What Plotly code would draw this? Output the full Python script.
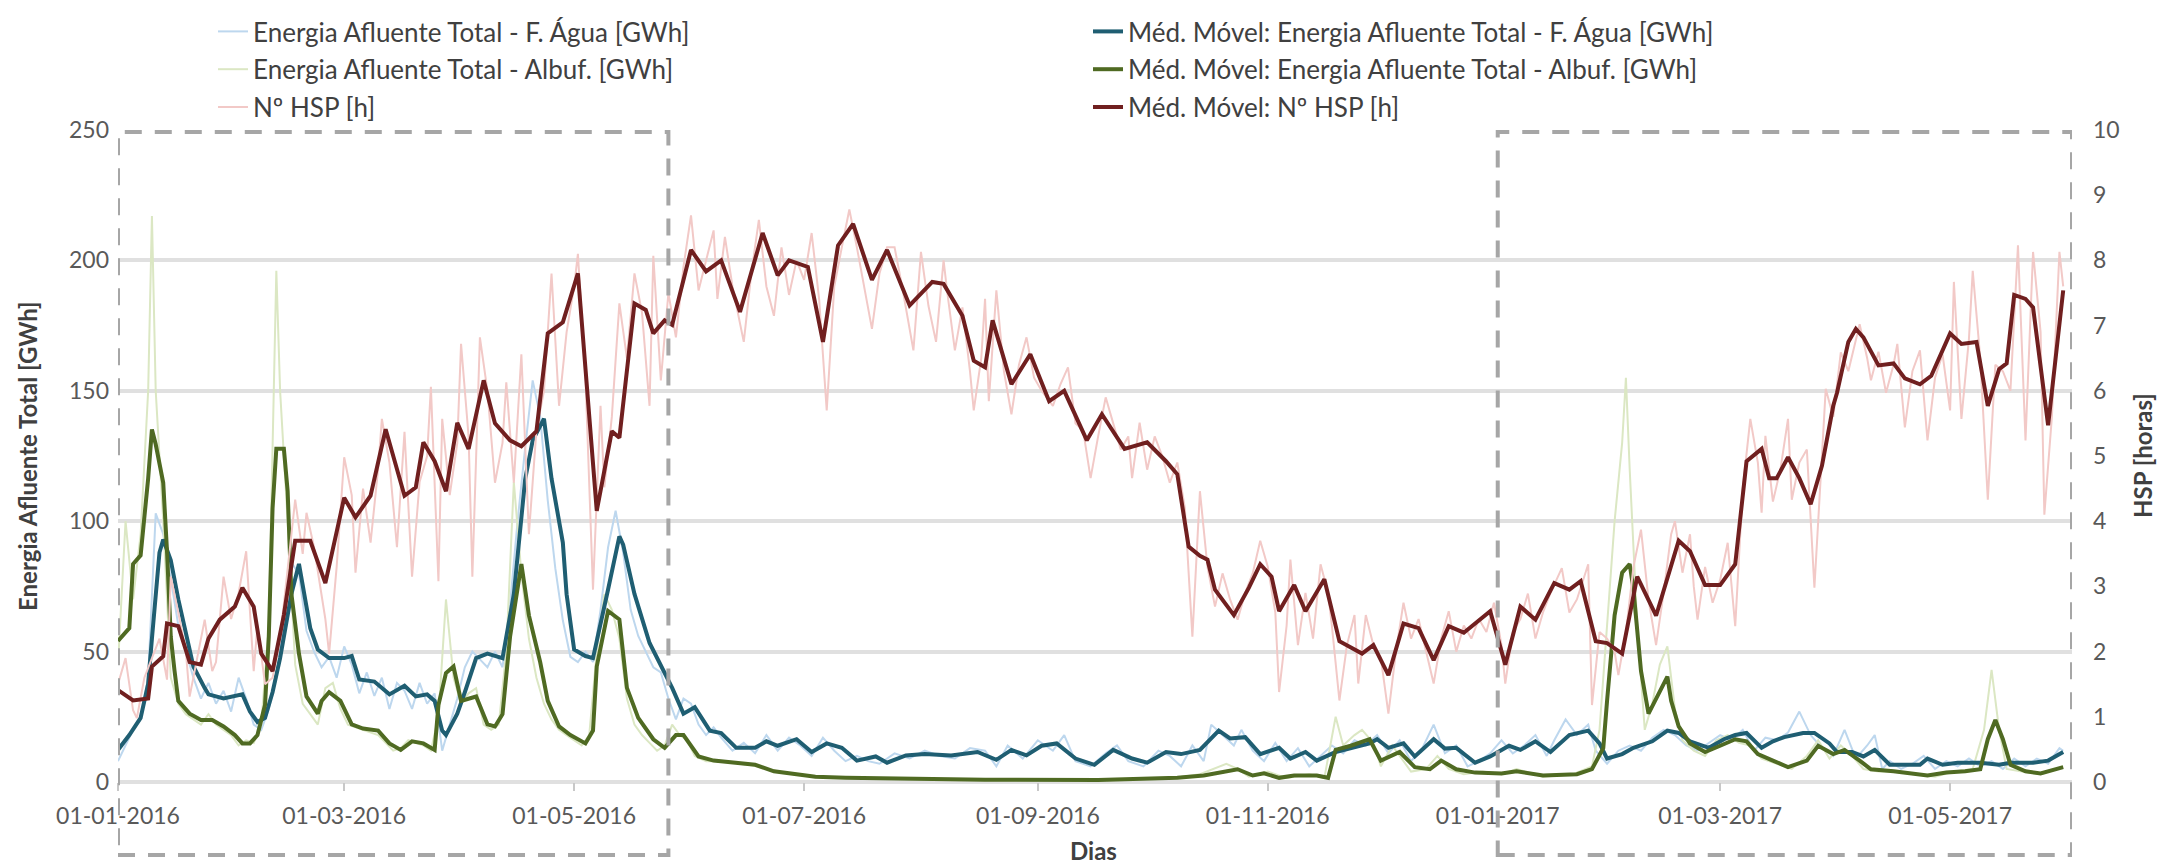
"""Energia afluente (F. Água / Albufeiras) e Nº HSP, com médias móveis."""
import pandas as pd
import plotly.graph_objects as go

START = pd.Timestamp("2016-01-01")
FONT = "Lato"

# (dias desde 01-01-2016, valor)
AGUA_RAW = [
    (0, 8), (2, 14), (4, 20), (6, 24), (8, 40), (10, 103), (12, 95), (14, 78), (16, 60), (18, 50),
    (20, 40), (22, 32), (24, 38), (26, 30), (28, 35), (30, 27), (32, 40), (34, 32), (36, 22), (38, 20),
    (40, 28), (42, 40), (44, 62), (46, 84), (48, 80), (50, 58), (52, 50), (54, 44), (56, 48), (58, 40),
    (60, 52), (62, 45), (64, 34), (66, 42), (68, 33), (70, 40), (72, 28), (74, 38), (76, 35), (78, 28),
    (80, 38), (82, 30), (84, 34), (86, 12), (88, 22), (90, 32), (92, 44), (94, 50), (96, 47), (98, 44),
    (100, 50), (102, 44), (104, 68), (106, 100), (108, 128), (110, 154), (112, 140), (114, 108),
    (116, 82), (118, 62), (120, 48), (122, 46), (124, 50), (126, 46), (128, 66), (130, 90), (132, 104),
    (134, 88), (136, 66), (138, 56), (140, 50), (142, 44), (144, 42), (146, 32), (148, 24), (150, 32),
    (152, 30), (154, 22), (156, 18), (158, 21), (160, 17), (163, 12), (166, 15), (169, 11), (172, 18),
    (175, 12), (178, 17), (181, 14), (184, 10), (187, 17), (190, 12), (193, 8), (196, 10), (199, 8),
    (202, 7), (206, 11), (210, 9), (214, 12), (218, 10), (222, 9), (226, 13), (230, 12), (233, 6),
    (236, 14), (240, 9), (244, 16), (248, 12), (251, 18), (254, 8), (258, 6), (262, 11), (265, 14),
    (268, 8), (272, 6), (276, 12), (279, 10), (282, 6), (285, 14), (288, 8), (290, 22), (293, 18),
    (296, 14), (298, 20), (301, 12), (304, 8), (307, 15), (310, 8), (313, 13), (316, 6), (319, 10),
    (322, 14), (325, 11), (328, 16), (331, 14), (334, 18), (337, 11), (340, 16), (343, 8), (346, 13),
    (349, 22), (352, 11), (355, 14), (358, 6), (361, 8), (364, 11), (367, 16), (370, 11), (373, 14),
    (376, 18), (379, 10), (381, 16), (384, 24), (387, 18), (390, 22), (392, 12), (395, 7), (398, 12),
    (401, 14), (404, 12), (407, 17), (410, 20), (413, 18), (416, 14), (419, 12), (422, 15), (425, 18),
    (428, 16), (431, 20), (434, 12), (437, 17), (440, 16), (443, 19), (446, 27), (449, 18), (452, 13),
    (455, 10), (458, 20), (461, 9), (464, 14), (466, 18), (468, 5), (470, 8), (473, 5), (476, 7),
    (479, 10), (482, 5), (485, 8), (488, 6), (491, 9), (494, 6), (497, 8), (500, 5), (503, 9),
    (506, 6), (509, 9), (512, 7), (515, 13), (516, 12),
]

ALBUF_RAW = [
    (0, 45), (2, 100), (4, 70), (6, 95), (8, 150), (9, 217), (10, 150), (12, 100), (14, 40), (16, 30),
    (18, 26), (20, 24), (22, 22), (24, 26), (26, 22), (28, 20), (30, 18), (32, 14), (34, 16), (36, 15),
    (38, 22), (40, 60), (42, 196), (43, 150), (45, 100), (47, 45), (49, 30), (51, 26), (53, 22),
    (55, 36), (57, 38), (59, 28), (61, 22), (63, 21), (65, 20), (67, 19), (69, 18), (71, 15), (73, 12),
    (75, 13), (77, 16), (79, 15), (81, 14), (83, 12), (85, 25), (87, 70), (89, 40), (91, 30), (93, 34),
    (95, 36), (97, 22), (99, 20), (101, 22), (103, 50), (105, 115), (107, 80), (109, 55), (111, 40),
    (113, 30), (115, 24), (117, 20), (119, 18), (121, 16), (123, 14), (125, 18), (127, 50), (129, 72),
    (131, 66), (133, 55), (135, 32), (137, 22), (139, 18), (141, 15), (143, 12), (145, 14), (147, 22),
    (149, 18), (151, 16), (153, 10), (156, 8), (160, 8), (165, 7), (170, 6), (175, 4), (180, 3),
    (186, 2), (195, 1.5), (205, 1.2), (230, 0.8), (260, 0.8), (280, 1.5), (287, 3), (294, 7), (297, 5),
    (300, 2), (305, 4), (310, 1.5), (316, 3), (320, 1.5), (323, 25), (325, 14), (328, 18), (330, 20),
    (333, 15), (335, 6), (338, 14), (340, 10), (343, 4), (347, 5), (350, 10), (353, 5), (357, 3),
    (362, 4), (367, 3), (371, 5), (378, 2), (386, 3), (391, 6), (393, 20), (395, 60), (397, 100),
    (399, 130), (400, 155), (401, 120), (403, 60), (405, 20), (407, 30), (409, 45), (411, 52),
    (413, 28), (415, 16), (418, 12), (421, 10), (424, 16), (427, 18), (430, 15), (433, 14), (436, 9),
    (440, 7), (444, 5), (448, 10), (451, 16), (454, 9), (457, 14), (460, 10), (463, 5), (467, 4),
    (472, 4), (477, 3), (482, 2), (487, 4), (492, 5), (495, 20), (497, 43), (499, 20), (501, 5),
    (505, 4), (510, 3), (516, 6),
]

HSP_RAW = [
    (0, 1.5), (2, 1.9), (4, 1.1), (5, 0.98), (7, 1.6), (9, 1.9), (11, 2.2), (13, 1.57), (14, 3.15),
    (16, 2.6), (18, 2.0), (19, 1.31), (21, 1.9), (23, 2.49), (25, 1.7), (26, 1.84), (28, 3.15),
    (30, 2.5), (32, 2.9), (34, 3.54), (36, 1.7), (37, 2.4), (39, 1.5), (41, 1.6), (43, 2.2), (45, 3.3),
    (47, 4.33), (49, 3.5), (50, 4.13), (52, 3.6), (55, 2.5), (56, 1.97), (58, 3.3), (60, 4.98),
    (62, 4.4), (63, 3.21), (65, 4.5), (67, 3.67), (69, 4.8), (70, 5.57), (72, 4.9), (74, 3.6),
    (76, 5.37), (78, 3.15), (80, 4.6), (82, 5.0), (83, 6.06), (85, 3.08), (86, 5.57), (88, 4.4),
    (90, 5.2), (91, 6.72), (93, 5.3), (94, 3.15), (96, 6.82), (98, 6.0), (100, 4.59), (102, 5.2),
    (103, 6.13), (105, 4.59), (107, 6.56), (109, 3.8), (111, 5.4), (113, 6.0), (115, 7.8), (117, 5.77),
    (119, 6.9), (121, 7.6), (122, 8.1), (124, 6.2), (126, 2.95), (128, 5.77), (129, 4.52), (131, 5.6),
    (133, 7.34), (135, 6.5), (137, 7.8), (139, 7.2), (141, 5.77), (142, 8.07), (144, 6.16), (146, 7.5),
    (148, 6.82), (150, 7.9), (152, 8.69), (154, 7.54), (156, 8.0), (158, 8.46), (159, 7.41),
    (161, 8.36), (163, 7.6), (166, 6.75), (168, 7.8), (170, 8.62), (172, 7.6), (174, 7.15), (176, 8.2),
    (178, 7.47), (180, 8.0), (182, 7.7), (184, 8.42), (186, 7.4), (188, 5.7), (190, 7.6), (192, 8.2),
    (194, 8.78), (196, 8.2), (198, 7.6), (200, 6.95), (202, 7.8), (204, 8.2), (206, 8.2), (208, 7.6),
    (211, 6.62), (213, 8.13), (215, 7.3), (217, 6.75), (219, 8.0), (220, 7.5), (222, 6.62),
    (224, 7.28), (226, 6.3), (227, 5.7), (229, 6.5), (230, 7.41), (231, 5.84), (233, 7.54), (235, 6.3),
    (237, 5.64), (239, 6.4), (241, 6.82), (243, 6.2), (245, 6.0), (248, 5.77), (250, 6.1), (252, 6.36),
    (254, 5.5), (256, 5.4), (258, 4.66), (260, 5.3), (262, 5.9), (264, 5.5), (266, 5.1), (268, 5.3),
    (269, 4.66), (271, 5.51), (273, 4.79), (275, 5.3), (277, 5.0), (279, 4.59), (281, 4.9), (283, 4.2),
    (285, 2.23), (287, 4.46), (289, 3.3), (291, 2.69), (293, 3.2), (295, 2.8), (297, 2.49), (299, 2.9),
    (301, 3.2), (303, 3.7), (305, 3.3), (307, 2.6), (308, 1.38), (310, 2.4), (311, 3.41), (313, 2.1),
    (315, 2.9), (317, 2.2), (319, 3.34), (321, 2.9), (322, 2.4), (324, 1.25), (326, 2.1), (328, 2.56),
    (329, 1.51), (331, 2.56), (333, 2.1), (335, 1.9), (337, 1.05), (339, 2.0), (341, 2.75), (343, 2.2),
    (345, 2.5), (347, 2.0), (349, 1.51), (351, 2.2), (353, 2.62), (355, 2.0), (357, 2.4), (359, 2.2),
    (361, 2.5), (363, 2.3), (365, 2.75), (367, 2.1), (368, 1.51), (370, 2.3), (372, 2.5), (374, 2.89),
    (376, 2.2), (378, 2.6), (380, 2.9), (383, 3.28), (385, 2.6), (387, 2.8), (390, 3.34), (391, 1.18),
    (393, 2.3), (395, 2.2), (397, 2.0), (398, 1.64), (400, 2.3), (402, 3.3), (404, 3.87), (406, 2.8),
    (408, 2.1), (410, 2.9), (412, 3.8), (413, 4.0), (415, 3.21), (417, 3.8), (418, 3.0), (419, 2.49),
    (421, 3.3), (423, 2.75), (425, 3.1), (427, 3.67), (429, 2.39), (431, 4.5), (433, 5.57), (435, 4.9),
    (436, 4.13), (437, 5.31), (439, 4.3), (441, 4.8), (443, 5.57), (444, 4.33), (446, 4.9), (448, 5.1),
    (450, 2.98), (452, 5.0), (453, 6.03), (455, 5.6), (457, 6.59), (459, 6.3), (462, 7.02), (464, 6.5),
    (465, 6.16), (467, 6.6), (469, 5.97), (471, 6.4), (472, 6.72), (474, 5.44), (476, 6.3),
    (478, 6.62), (480, 5.24), (482, 6.2), (484, 6.56), (486, 5.7), (487, 7.67), (489, 5.57), (491, 6.8),
    (492, 7.84), (494, 6.5), (496, 4.33), (498, 6.4), (500, 6.3), (502, 6.0), (504, 8.23), (506, 5.24),
    (508, 8.13), (510, 6.9), (511, 4.1), (513, 5.6), (515, 8.13), (516, 7.6),
]

AGUA_MA = [
    (0, 12.3), (3, 18), (6, 24.6), (8, 37.7), (9, 55), (11, 88), (12, 93), (14, 85), (16, 70),
    (18, 57), (20, 44.3), (23, 36), (24, 33.6), (28, 32), (31, 32.8), (33, 33.6), (35, 27), (37, 23),
    (39, 24.6), (41, 34.4), (43, 47.5), (46, 72.1), (48, 83.6), (51, 59), (53, 50.8), (56, 47.5),
    (60, 47.5), (62, 48.3), (64, 39.3), (68, 38.5), (72, 33.6), (76, 36.9), (79, 32.8), (82, 33.6),
    (84, 31.1), (86, 19.7), (87, 18), (90, 26.2), (92, 34.4), (95, 47.5), (98, 49.2), (102, 47.5),
    (105, 72), (108, 116), (110, 131), (113, 139.3), (115, 116.4), (118, 91.8), (119, 72), (121, 50.8),
    (124, 48.3), (126, 47.5), (130, 73.8), (133, 94.2), (134, 91), (137, 72.1), (141, 53.3),
    (144, 45.1), (147, 36.1), (150, 26.2), (153, 28.7), (157, 19.7), (160, 18.8), (164, 13.1),
    (169, 13.1), (172, 15.6), (175, 13.9), (180, 16.4), (184, 11.5), (188, 14.8), (192, 13.1),
    (196, 8.2), (201, 9.8), (204, 7.4), (209, 10.2), (214, 10.7), (221, 10.2), (228, 11.5), (233, 8.5),
    (237, 12.3), (241, 10.2), (245, 13.9), (249, 14.8), (254, 9), (259, 6.6), (264, 12.3), (269, 9),
    (273, 7.4), (278, 11.5), (282, 10.7), (287, 12.3), (292, 19.7), (295, 16.7), (299, 17.2),
    (303, 10.7), (308, 13.1), (311, 9), (315, 11.5), (318, 8.2), (323, 11.5), (327, 13.1), (332, 14.8),
    (334, 16.4), (337, 13.1), (341, 14.8), (344, 9.8), (349, 16.4), (352, 12.8), (355, 13.1),
    (360, 7.4), (364, 9.8), (369, 13.9), (372, 12.3), (376, 15.6), (380, 11.5), (385, 18), (390, 19.7),
    (393, 14.8), (395, 9), (399, 10.7), (402, 13.1), (407, 15.6), (411, 19.7), (414, 18.8), (417, 15.6),
    (422, 13.1), (426, 16.4), (429, 18), (432, 18.8), (436, 13.1), (439, 15.6), (442, 17.2),
    (447, 18.8), (450, 18.8), (454, 14.8), (456, 11.5), (460, 11.5), (463, 9.8), (466, 12.3),
    (470, 6.6), (474, 6.6), (478, 6.6), (480, 9), (484, 6.6), (488, 7.4), (494, 7.4), (499, 6.6),
    (502, 7.4), (508, 7.4), (512, 8.2), (516, 11.5),
]

ALBUF_MA = [
    (0, 54.1), (3, 59), (4, 83.6), (6, 86.9), (8, 116.4), (9, 135.2), (10, 129.5), (12, 114.7),
    (13, 88.5), (14, 55.7), (15, 42.6), (16, 31.1), (19, 26.2), (22, 23.8), (25, 23.8), (28, 21.3),
    (31, 18), (33, 14.8), (35, 14.8), (37, 18), (39, 29.5), (40, 55.7), (41, 104.9), (42, 127.8),
    (44, 127.8), (45, 111.5), (46, 72.1), (48, 49.2), (50, 32.8), (53, 26.2), (54, 31.1), (56, 34.4),
    (59, 31.1), (62, 22.1), (65, 20.5), (69, 19.7), (72, 14.8), (75, 12.3), (78, 15.6), (81, 14.8),
    (84, 12.3), (85, 29.5), (87, 41.8), (89, 44.3), (91, 31.1), (93, 32), (95, 32.8), (98, 22.1),
    (100, 21.3), (102, 26), (104, 55.7), (107, 83.6), (109, 63.9), (112, 45.9), (114, 31.1),
    (117, 21.3), (120, 18), (124, 14.8), (126, 19.7), (127, 44.3), (130, 65.6), (133, 62.3),
    (135, 36.1), (138, 24.6), (142, 16.4), (145, 13.1), (148, 18), (150, 18), (154, 9.8), (158, 8.2),
    (164, 7.4), (169, 6.6), (174, 4.1), (180, 3), (185, 2), (193, 1.6), (204, 1.3), (230, 0.9),
    (260, 0.8), (281, 1.6), (288, 2.5), (295, 4.6), (297, 4.9), (301, 2.5), (304, 3.3), (308, 1.6),
    (312, 2.5), (318, 2.5), (321, 1.6), (323, 12.3), (327, 13.9), (332, 16.4), (335, 8.2), (340, 11.5),
    (344, 5.7), (348, 4.9), (351, 8.2), (355, 4.9), (360, 3.6), (367, 3.3), (371, 4.1), (378, 2.5),
    (387, 3), (391, 4.9), (394, 13.1), (395, 31.1), (397, 63.9), (399, 80.3), (401, 83.6), (402, 73.8),
    (404, 42.6), (406, 26.2), (409, 34.4), (411, 40.4), (412, 31.1), (414, 21.3), (417, 14.8),
    (421, 11.5), (425, 13.9), (429, 16.4), (432, 15.6), (435, 10.7), (439, 8.2), (443, 5.7), (448, 8.2),
    (451, 13.9), (455, 10.7), (458, 12.3), (462, 8.2), (465, 4.9), (471, 4.1), (476, 3.3), (480, 2.5),
    (485, 3.6), (490, 4.1), (494, 4.9), (496, 16.4), (498, 23.8), (500, 16.4), (502, 6.6), (506, 4.1),
    (510, 3.3), (516, 5.7),
]

HSP_MA = [
    (0, 1.41), (4, 1.25), (8, 1.28), (9, 1.77), (12, 1.93), (13, 2.43), (16, 2.39), (19, 1.84),
    (22, 1.8), (24, 2.2), (27, 2.49), (31, 2.69), (33, 2.98), (36, 2.69), (38, 1.97), (41, 1.7),
    (44, 2.56), (47, 3.7), (51, 3.7), (55, 3.05), (60, 4.36), (63, 4.06), (67, 4.39), (71, 5.41),
    (76, 4.39), (79, 4.52), (81, 5.21), (84, 4.92), (87, 4.46), (90, 5.51), (93, 5.11), (97, 6.16),
    (100, 5.5), (104, 5.24), (107, 5.15), (111, 5.38), (114, 6.88), (118, 7.05), (122, 7.8),
    (127, 4.16), (131, 5.38), (133, 5.28), (137, 7.34), (140, 7.24), (142, 6.88), (145, 7.08),
    (147, 7.01), (152, 8.16), (156, 7.83), (160, 8.0), (165, 7.21), (171, 8.42), (175, 7.77),
    (178, 8.0), (183, 7.9), (187, 6.75), (191, 8.23), (195, 8.56), (200, 7.7), (204, 8.16),
    (210, 7.31), (216, 7.67), (219, 7.64), (224, 7.15), (227, 6.46), (230, 6.36), (232, 7.08),
    (237, 6.1), (242, 6.56), (247, 5.84), (251, 6.0), (257, 5.24), (261, 5.64), (267, 5.11),
    (273, 5.21), (278, 4.92), (281, 4.72), (284, 3.61), (287, 3.47), (289, 3.41), (291, 2.95),
    (296, 2.56), (300, 2.98), (303, 3.34), (306, 3.15), (308, 2.62), (312, 3.02), (315, 2.62),
    (320, 3.11), (324, 2.16), (330, 1.97), (333, 2.1), (337, 1.64), (341, 2.43), (345, 2.36),
    (349, 1.87), (353, 2.39), (357, 2.29), (364, 2.62), (368, 1.8), (372, 2.69), (376, 2.49),
    (381, 3.05), (385, 2.95), (388, 3.08), (392, 2.16), (395, 2.13), (399, 1.97), (403, 3.15),
    (408, 2.55), (414, 3.7), (417, 3.54), (421, 3.02), (425, 3.02), (429, 3.34), (432, 4.92),
    (436, 5.11), (438, 4.66), (440, 4.66), (443, 4.98), (446, 4.66), (449, 4.26), (452, 4.85),
    (455, 5.77), (456, 5.97), (459, 6.75), (461, 6.95), (463, 6.82), (467, 6.39), (471, 6.42),
    (474, 6.19), (478, 6.1), (481, 6.23), (486, 6.88), (489, 6.72), (493, 6.75), (496, 5.77),
    (499, 6.33), (501, 6.42), (503, 7.47), (506, 7.41), (508, 7.28), (512, 5.47), (516, 7.54),
]

TICK_DATES = ["2016-01-01", "2016-03-01", "2016-05-01", "2016-07-01", "2016-09-01",
              "2016-11-01", "2017-01-01", "2017-03-01", "2017-05-01"]
X_RANGE = ["2016-01-01", "2017-06-02 08:00"]
BOX1 = ["2016-01-01", "2016-05-26"]
BOX2 = ["2017-01-01", X_RANGE[1]]

# geometria: a página desloca a figura 8px (margem do <body>), por isso
# as posições pretendidas no ecrã são convertidas descontando esse desvio
W, H = 2166, 866
OFF = 8
ML, MT = 118 - OFF, 130 - OFF
MR, MB = W - (2072 - OFF), H - (782 - OFF)
PW, PH = W - ML - MR, H - MT - MB


def px_x(px):
    return (px - OFF - ML) / PW


def px_y(py):
    return (H - MB - (py - OFF)) / PH


def unzip(pairs):
    days, vals = zip(*pairs)
    return START + pd.to_timedelta(list(days), unit="D"), list(vals)


SERIES = [
    # nome, dados, cor, largura, eixo, legenda, grupo
    ("Energia Afluente Total - F. Água [GWh]", AGUA_RAW, "#bdd7ee", 2, "y", "legend", "g1"),
    ("Energia Afluente Total - Albuf. [GWh]", ALBUF_RAW, "#dbe7c3", 2, "y", "legend", "g2"),
    ("Nº HSP [h]", HSP_RAW, "#f2c9c7", 2, "y2", "legend", "g3"),
    ("Méd. Móvel: Energia Afluente Total - F. Água [GWh]", AGUA_MA, "#1f5e72", 4, "y", "legend2", "g4"),
    ("Méd. Móvel: Energia Afluente Total - Albuf. [GWh]", ALBUF_MA, "#4f6a22", 4, "y", "legend2", "g5"),
    ("Méd. Móvel: Nº HSP [h]", HSP_MA, "#701f1f", 4, "y2", "legend2", "g6"),
]

fig = go.Figure()
for name, pairs, color, width, axis, legend, group in SERIES:
    x, y = unzip(pairs)
    fig.add_trace(go.Scatter(
        x=x, y=y, name=name, mode="lines", yaxis=axis, legend=legend, legendgroup=group,
        line=dict(color=color, width=width),
    ))

box_style = dict(type="rect", xref="x", yref="paper", layer="above",
                 line=dict(color="#a6a6a6", width=4, dash="17px,13px"), fillcolor="rgba(0,0,0,0)")
shapes = [
    dict(x0=BOX1[0], x1=BOX1[1], y0=px_y(855), y1=px_y(132), **box_style),
    dict(x0=BOX2[0], x1=BOX2[1], y0=px_y(855), y1=px_y(132), **box_style),
]

title_font = dict(family=FONT, size=24, color="#404040", weight="bold")
annotations = [
    dict(text="Energia Afluente Total [GWh]", x=px_x(27), y=0.5, xref="paper", yref="paper",
         textangle=-90, showarrow=False, font=title_font, xanchor="center", yanchor="middle"),
    dict(text="HSP [horas]", x=px_x(2142), y=0.5, xref="paper", yref="paper",
         textangle=-90, showarrow=False, font=title_font, xanchor="center", yanchor="middle"),
    dict(text="Dias", x=px_x(1093), y=px_y(850), xref="paper", yref="paper",
         showarrow=False, font=title_font, xanchor="center", yanchor="middle"),
]

legend_style = dict(orientation="v", yanchor="top", xanchor="left", bgcolor="rgba(0,0,0,0)",
                    font=dict(family=FONT, size=26, color="#404040"), tracegroupgap=1,
                    traceorder="grouped", xref="container", yref="container")
tick_font = dict(family=FONT, size=23, color="#595959")

fig.update_layout(
    width=W, height=H,
    margin=dict(l=ML, r=MR, t=MT, b=MB, autoexpand=False),
    paper_bgcolor="white", plot_bgcolor="white",
    font=dict(family=FONT),
    showlegend=True,
    legend=dict(x=(213 - OFF) / W, y=1.0, **legend_style),
    legend2=dict(x=(1088 - OFF) / W, y=1.0, **legend_style),
    xaxis=dict(
        type="date", range=X_RANGE, tickvals=TICK_DATES,
        ticktext=[pd.Timestamp(d).strftime("%d-%m-%Y") for d in TICK_DATES],
        tickfont=tick_font, ticks="outside", ticklen=8, tickwidth=2, tickcolor="#c8c8c8",
        ticklabelstandoff=5, showgrid=False, showline=False, zeroline=False, automargin=False,
    ),
    yaxis=dict(
        range=[0, 250], dtick=50, tickfont=tick_font, gridcolor="#e0e0e0", gridwidth=4,
        zeroline=True, zerolinecolor="#e0e0e0", zerolinewidth=4, showline=False,
        ticks="", ticklabelstandoff=8, automargin=False,
    ),
    yaxis2=dict(
        range=[0, 10], dtick=1, overlaying="y", side="right", tickfont=tick_font,
        showgrid=False, zeroline=False, showline=False, ticks="", ticklabelstandoff=20,
        automargin=False,
    ),
    shapes=shapes,
    annotations=annotations,
)

fig.write_html("out.html")
